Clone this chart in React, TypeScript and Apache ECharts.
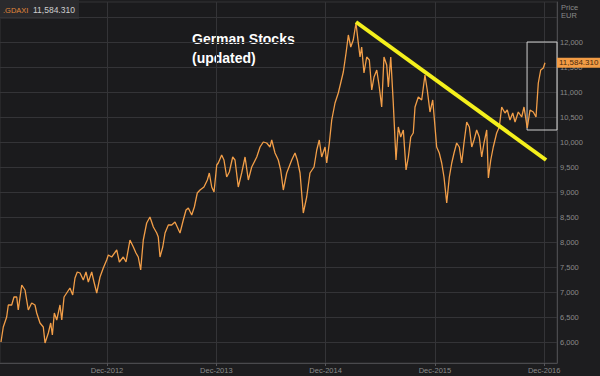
import React, { useEffect, useRef } from "react";
import * as echarts from "echarts";

// Dates as decimal years, DAX closing values
const dates = [
  2012.030, 2012.051, 2012.082, 2012.097, 2012.128, 2012.149, 2012.174, 2012.188, 2012.220, 2012.250,
  2012.280, 2012.311, 2012.341, 2012.357, 2012.387, 2012.417, 2012.433, 2012.463, 2012.485, 2012.500,
  2012.518, 2012.540, 2012.570, 2012.586, 2012.607, 2012.631, 2012.661, 2012.686, 2012.707, 2012.728,
  2012.753, 2012.783, 2012.808, 2012.829, 2012.860, 2012.881, 2012.906, 2012.936, 2012.966, 2012.997,
  2013.012, 2013.043, 2013.089, 2013.113, 2013.149, 2013.174, 2013.210, 2013.241, 2013.265, 2013.286,
  2013.308, 2013.332, 2013.363, 2013.393, 2013.424, 2013.455, 2013.469, 2013.485, 2013.510, 2013.531,
  2013.561, 2013.592, 2013.622, 2013.643, 2013.668, 2013.698, 2013.723, 2013.744, 2013.775, 2013.799,
  2013.826, 2013.851, 2013.887, 2013.918, 2013.936, 2013.958, 2013.979, 2014.004, 2014.018, 2014.049,
  2014.070, 2014.095, 2014.119, 2014.150, 2014.171, 2014.201, 2014.232, 2014.263, 2014.293, 2014.324,
  2014.370, 2014.400, 2014.430, 2014.461, 2014.491, 2014.507, 2014.537, 2014.567, 2014.589, 2014.613,
  2014.644, 2014.690, 2014.720, 2014.741, 2014.766, 2014.796, 2014.827, 2014.857, 2014.894, 2014.919,
  2014.942, 2014.964, 2014.995, 2015.010, 2015.034, 2015.056, 2015.086, 2015.116, 2015.138, 2015.162,
  2015.187, 2015.208, 2015.230, 2015.253, 2015.278, 2015.299, 2015.315, 2015.330, 2015.351, 2015.376,
  2015.400, 2015.422, 2015.443, 2015.468, 2015.491, 2015.513, 2015.534, 2015.559, 2015.574, 2015.596,
  2015.619, 2015.644, 2015.665, 2015.687, 2015.711, 2015.736, 2015.757, 2015.779, 2015.802, 2015.818,
  2015.848, 2015.879, 2015.909, 2015.930, 2015.955, 2015.980, 2016.001, 2016.016, 2016.040, 2016.062,
  2016.083, 2016.108, 2016.132, 2016.154, 2016.175, 2016.199, 2016.223, 2016.245, 2016.266, 2016.291,
  2016.315, 2016.337, 2016.358, 2016.382, 2016.406, 2016.428, 2016.449, 2016.474, 2016.489, 2016.511,
  2016.534, 2016.565, 2016.589, 2016.611, 2016.641, 2016.662, 2016.687, 2016.712, 2016.733, 2016.763,
  2016.794, 2016.815, 2016.845, 2016.870, 2016.900, 2016.925, 2016.946, 2016.968, 2016.992, 2017.007,
];

const prices = [
  6000, 6300, 6500, 6740, 6740, 6900, 6900, 6640, 7140, 7040,
  6640, 6780, 6740, 6580, 6380, 6300, 5980, 6180, 6380, 6140,
  6580, 6440, 6740, 6440, 6900, 6980, 7080, 6940, 7280, 7400,
  7380, 7240, 7400, 7200, 7400, 7200, 6980, 7300, 7480, 7640,
  7740, 7700, 7840, 7600, 7700, 7600, 8040, 7900, 7780, 7700,
  7440, 8040, 8380, 8500, 8300, 8180, 8100, 7700, 7900, 8180,
  8340, 8340, 8400, 8300, 8180, 8440, 8640, 8680, 8540, 8700,
  8980, 9040, 9100, 9240, 9380, 9100, 9000, 9540, 9580, 9740,
  9640, 9300, 9400, 9700, 9640, 9100, 9380, 9700, 9240, 9500,
  9700, 9900, 10000, 9980, 9900, 10040, 9780, 9640, 9440, 9040,
  9380, 9640, 9780, 9640, 9380, 8580, 8900, 9380, 9500, 9840,
  10040, 9700, 9900, 9580, 9980, 10440, 10780, 10980, 11180, 11400,
  11780, 12140, 11900, 12040, 12380, 11980, 11700, 11900, 11380, 11700,
  11640, 11040, 11300, 11440, 11100, 10700, 11700, 11540, 11100, 11700,
  10780, 9640, 10300, 10100, 10240, 9440, 9700, 10100, 10180, 10700,
  10900, 10840, 11340, 11040, 10600, 10840, 10300, 9900, 9780, 9580,
  9300, 8780, 9300, 9580, 9780, 9980, 9900, 9580, 9980, 10400,
  10300, 9900, 10040, 10240, 10100, 9700, 9980, 10240, 9280, 9640,
  9900, 10180, 10300, 10700, 10580, 10640, 10440, 10580, 10400, 10600,
  10500, 10700, 10280, 10640, 10600, 10500, 11180, 11440, 11480, 11584.31,
];

// Hand-drawn trend line (from the April 2015 peak)
const trendDates = [2015.278, 2017.017];
const trendValues = [12400, 9640];

// Highlight box around the latest rally
const boxDates = [2016.843, 2017.117];
const boxValues = [10240, 12000];

// Axis ticks
const xTickYears = [2013, 2014, 2015, 2016, 2017];
const xTickLabels = ["Dec-2012", "Dec-2013", "Dec-2014", "Dec-2015", "Dec-2016"];
const yGridValues = [6000, 6500, 7000, 7500, 8000, 8500, 9000, 9500, 10000, 10500, 11000, 11500, 12000, 12500];
const yLabelValues = [6000, 6500, 7000, 7500, 8000, 8500, 9000, 9500, 10000, 10500, 11000, 11500, 12000];

const symbol = ".GDAXI";
const title = "German Stocks\n(updated)";

export default function App() {
  const ref = useRef<HTMLDivElement>(null);
  useEffect(() => {
    if (!ref.current) return;
    const chart = echarts.init(ref.current, null, { renderer: "svg" });
    const last = prices[prices.length - 1];
    const fmt = (v: number) =>
      v.toLocaleString("en-US", { minimumFractionDigits: 3, maximumFractionDigits: 3 });
    const font = "Liberation Sans, Arial, sans-serif";
    const gridColor = "#343437";
    const labelColor = "#8a8a8a";
    chart.setOption({
      animation: false,
      backgroundColor: "#1d1d1f",
      textStyle: { fontFamily: font },
      grid: {
        left: 0,
        right: 43,
        top: 2,
        bottom: 13,
        show: true,
        borderColor: gridColor,
        borderWidth: 1,
        backgroundColor: "#1b1b1d",
      },
      xAxis: {
        type: "value",
        min: 2012.021,
        max: 2017.117,
        axisLine: { show: true, lineStyle: { color: "#4a4a4d" } },
        axisTick: { show: true, length: 3, customValues: xTickYears, lineStyle: { color: "#55555a" } },
        axisLabel: {
          customValues: xTickYears,
          color: labelColor,
          fontSize: 7.5,
          margin: 3,
          formatter: (v: number) => xTickLabels[xTickYears.indexOf(Math.round(v))] ?? "",
        },
        splitLine: { show: true, lineStyle: { color: gridColor, width: 1 } },
      },
      yAxis: {
        type: "value",
        position: "right",
        min: 5580,
        max: 12800,
        axisLine: { show: true, lineStyle: { color: "#4a4a4d" } },
        axisTick: { show: false, customValues: yGridValues },
        axisLabel: {
          customValues: yLabelValues,
          color: labelColor,
          fontSize: 7.5,
          margin: 3,
          formatter: (v: number) => v.toLocaleString("en-US"),
        },
        splitLine: { show: true, lineStyle: { color: gridColor, width: 1 } },
      },
      series: [
        {
          type: "line",
          name: "GDAXI",
          data: dates.map((d, i) => [d, prices[i]]),
          showSymbol: false,
          symbol: "none",
          lineStyle: { color: "#f29e48", width: 1.3 },
          z: 2,
          endLabel: {
            show: true,
            distance: 12,
            formatter: () => fmt(last),
            color: "#4a2a0c",
            backgroundColor: "#f39c45",
            padding: [1, 2, 1, 2],
            fontSize: 8,
            fontFamily: font,
          },
          markArea: {
            silent: true,
            itemStyle: { color: "rgba(0,0,0,0)", borderColor: "#cfcfcf", borderWidth: 1 },
            data: [[{ coord: [boxDates[0], boxValues[1]] }, { coord: [boxDates[1], boxValues[0]] }]],
          },
        },
        {
          type: "line",
          name: "trend",
          data: trendDates.map((d, i) => [d, trendValues[i]]),
          showSymbol: false,
          symbol: "none",
          lineStyle: { color: "#f4f01c", width: 4 },
          z: 3,
        },
      ],
      graphic: [
        { type: "rect", shape: { x: 0, y: 0, width: 79, height: 19 }, style: { fill: "#2a2a2d" } },
        {
          type: "text",
          x: 3,
          y: 10,
          style: { text: symbol, fill: "#e0873a", font: `7.5px ${font}`, textVerticalAlign: "middle" },
        },
        {
          type: "text",
          x: 33,
          y: 10,
          style: { text: fmt(last), fill: "#cfcfcf", font: `8.5px ${font}`, textVerticalAlign: "middle" },
        },
        {
          type: "text",
          x: 561,
          y: 3,
          style: { text: "Price\nEUR", fill: labelColor, font: `7.5px ${font}`, lineHeight: 8 },
        },
        {
          type: "text",
          x: 192,
          y: 29,
          style: { text: title, fill: "#ffffff", font: `bold 14px ${font}`, lineHeight: 19 },
        },
      ],
    });
    return () => chart.dispose();
  }, []);
  return <div ref={ref} style={{ position: "fixed", left: 0, top: 0, width: 600, height: 376 }} />;
}
